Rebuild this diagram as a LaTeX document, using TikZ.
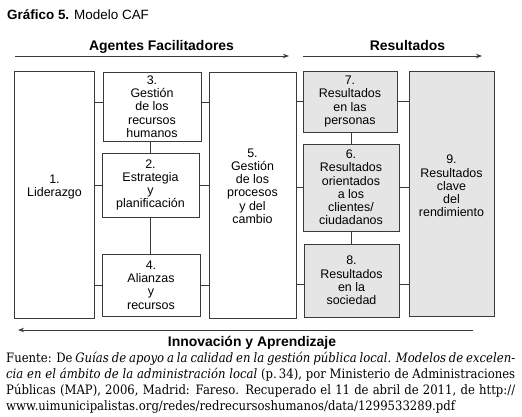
\documentclass[tikz,border=0pt]{standalone}
\usepackage{fontspec}
\setmainfont{Liberation Sans}
\newfontfamily\capfont[FakeStretch=0.9]{DejaVu Serif}
\usepackage{tikz}
\usetikzlibrary{arrows.meta}
\definecolor{cafline}{HTML}{3a3a3a}
\definecolor{cafgray}{HTML}{e5e5e5}

\begin{document}
\begin{tikzpicture}[x=1bp,y=1bp,
  box/.style={draw=cafline,line width=1bp,inner sep=0pt},
  enabler/.style={box,fill=white},
  result/.style={box,fill=cafgray},
  boxtext/.style={align=center,font=\fontsize{12.5}{13.3}\selectfont,inner sep=0pt},
  link/.style={draw=cafline,line width=1bp},
  flow/.style={draw=cafline,line width=1bp,-{Stealth[length=6bp,width=4.5bp]}},
  headtext/.style={anchor=base,font=\fontsize{14}{16}\bfseries}]
  \useasboundingbox (0,0) rectangle (522,-416);
  % title
  \node[anchor=base west,inner sep=0pt,font=\fontsize{13.5}{16}\selectfont] (title) at (7,-19)
    {\textbf{Gráfico 5.} Modelo CAF};
  % headings
  \coordinate (af1) at (15,-56);  \coordinate (af2) at (289,-56);
  \coordinate (rs1) at (303,-56); \coordinate (rs2) at (482,-56);
  \draw[flow] (af1) -- (af2);
  \draw[flow] (rs1) -- (rs2);
  \node[headtext] (agentes) at (161.5,-50.7) {Agentes Facilitadores};
  \node[headtext] (resultados) at (407.5,-50.7) {Resultados};
  % enablers
  \node[enabler,minimum width=79bp,minimum height=247bp] (b1) at (54.5,-194.5) {};
  \node[enabler,minimum width=98bp,minimum height=69bp] (b3) at (152,-106.5) {};
  \node[enabler,minimum width=97bp,minimum height=64bp] (b2) at (150.5,-185) {};
  \node[enabler,minimum width=98bp,minimum height=62bp] (b4) at (151,-285) {};
  \node[enabler,minimum width=87bp,minimum height=246bp] (b5) at (252.5,-195) {};
  % results
  \node[result,minimum width=94bp,minimum height=61bp] (b7) at (350,-101.5) {};
  \node[result,minimum width=96bp,minimum height=87bp] (b6) at (351,-187.5) {};
  \node[result,minimum width=95bp,minimum height=73bp] (b8) at (351.5,-280.5) {};
  \node[result,minimum width=85bp,minimum height=245bp] (b9) at (451.5,-193.5) {};
  % texts
  \node[boxtext] (t1) at (54.5,-187) {1.\\Liderazgo};
  \node[boxtext] (t3) at (b3) {3.\\Gestión\\de los\\recursos\\humanos};
  \node[boxtext] (t2) at (b2) {2.\\Estrategia\\y\\planificación};
  \node[boxtext] (t4) at (b4) {4.\\Alianzas\\y\\recursos};
  \node[boxtext] (t5) at (252.5,-186) {5.\\Gestión\\de los\\procesos\\y del\\cambio};
  \node[boxtext] (t7) at (b7) {7.\\Resultados\\en las\\personas};
  \node[boxtext] (t6) at (b6) {6.\\Resultados\\orientados\\a los\\clientes/\\ciudadanos};
  \node[boxtext] (t8) at (b8) {8.\\Resultados\\en la\\sociedad};
  \node[boxtext] (t9) at (451.5,-186) {9.\\Resultados\\clave\\del\\rendimiento};
  % links
  \draw[link] ([yshift=4]b3.west) -- ([yshift=4]b3.west -| b1.east);
  \draw[link] (b2.west) -- (b2.west -| b1.east);
  \draw[link] (b4.west) -- (b4.west -| b1.east);
  \draw[link] ([yshift=4]b3.east) -- ([yshift=4]b3.east -| b5.west);
  \draw[link] (b2.east) -- (b2.east -| b5.west);
  \draw[link] (b4.east) -- (b4.east -| b5.west);
  \draw[link] (b2.north) -- (b2.north |- b3.south);
  \draw[link] (b2.south) -- (b2.south |- b4.north);
  \draw[link] (b7.west) -- (b7.west -| b5.east);
  \draw[link] (b6.west) -- (b6.west -| b5.east);
  \draw[link] ([yshift=-4]b8.west) -- ([yshift=-4]b8.west -| b5.east);
  \draw[link] (b7.east) -- (b7.east -| b9.west);
  \draw[link] (b6.east) -- (b6.east -| b9.west);
  \draw[link] ([yshift=-4]b8.east) -- ([yshift=-4]b8.east -| b9.west);
  \draw[link] (b6.north) -- (b6.north |- b7.south);
  \draw[link] (b6.south) -- (b6.south |- b8.north);
  % innovation arrow
  \coordinate (in1) at (473,-330); \coordinate (in2) at (18,-330);
  \draw[flow] (in1) -- (in2);
  \node[headtext] (innov) at (252,-346) {Innovación y Aprendizaje};
  % source
  \begin{scope}[every node/.style={anchor=base west,inner sep=0pt,font=\capfont\fontsize{13}{15}\selectfont}]
    \node (cap1) at (6,-362) {\makebox[509bp][s]{Fuente: De \textit{Guías de apoyo a la calidad en la gestión pública local. Modelos de excelen-}}};
    \node (cap2) at (6,-378) {\makebox[509bp][s]{\textit{cia en el ámbito de la administración local} (p.\,34), por Ministerio de Administraciones}};
    \node (cap3) at (6,-394) {\makebox[509bp][s]{Públicas (MAP), 2006, Madrid: Fareso. Recuperado el 11 de abril de 2011, de http://}};
    \node (cap4) at (6,-410) {www.uimunicipalistas.org/redes/redrecursoshumanos/data/1299533289.pdf};
  \end{scope}
\end{tikzpicture}
\end{document}
